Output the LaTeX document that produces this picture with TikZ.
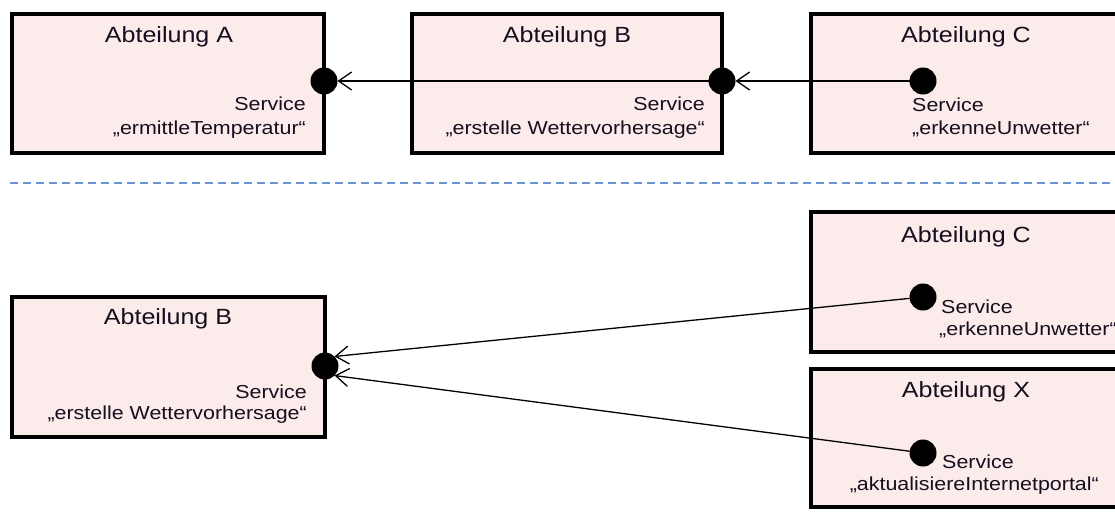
\documentclass[tikz,border=0pt]{standalone}
\usepackage{fontspec}
\setmainfont{Liberation Sans}
\newfontfamily\widesans[FakeStretch=1.14]{Liberation Sans}
\usetikzlibrary{arrows.meta}

\definecolor{boxfill}{RGB}{251,235,235}
\definecolor{sepblue}{RGB}{105,150,210}
\definecolor{txt}{RGB}{20,15,30}

\tikzset{
  dept/.style={draw=black, line width=4.5pt, fill=boxfill, rectangle,
    inner sep=0pt, outer sep=0pt, anchor=north west},
  title/.style={font=\widesans\fontsize{22}{26}\selectfont, text=txt, inner sep=0pt},
  svc/.style={font=\widesans\fontsize{18.8}{22}\selectfont, text=txt, inner sep=0pt},
  port/.style={circle, fill=black, draw=none, minimum size=27pt, inner sep=0pt, outer sep=0pt},
  conn/.style={line width=1.3pt, -{Straight Barb[length=13pt,width=18pt,line width=1.3pt]}},
  sep/.style={draw=sepblue, line width=2pt, dash pattern=on 8pt off 5pt}
}

\begin{document}
\begin{tikzpicture}[x=1pt, y=-1pt]
\useasboundingbox (0,0) rectangle (1115,511);
\clip (0,0) rectangle (1115,511);

% ---- upper row: chain A <- B <- C
\node[dept, minimum width=312pt, minimum height=139pt] (bA) at (12,14) {};
\node[dept, minimum width=310pt, minimum height=139pt] (bB) at (412,14) {};
\node[dept, minimum width=312pt, minimum height=139pt] (bC) at (811,14) {};

\node[title] (tA) at (169,37) {Abteilung A};
\node[title] (tB) at (567,37) {Abteilung B};
\node[title] (tC) at (966,37) {Abteilung C};

\node[svc, anchor=east] (sA1) at (306,104) {Service};
\node[svc, anchor=east] (sA2) at (306,130) {„ermittleTemperatur“};
\node[svc, anchor=east] (sB1) at (705,104) {Service};
\node[svc, anchor=east] (sB2) at (705,130) {„erstelle Wettervorhersage“};
\node[svc, anchor=west] (sC1) at (912,105) {Service};
\node[svc, anchor=west] (sC2) at (912,129) {„erkenneUnwetter“};

\node[port] (pA) at (324,81) {};
\node[port] (pB) at (722,81) {};
\node[port] (pC) at (923,81) {};

\draw[conn] (pC) -- (pB);
\draw[conn] (pB) -- (pA);

% ---- separator
\coordinate (sepL) at (10,183);
\coordinate (sepR) at (1115,183);
\draw[sep] (sepL) -- (sepR);

% ---- lower row: C and X both use B
\node[dept, minimum width=313pt, minimum height=140pt] (b2B) at (12,297) {};
\node[dept, minimum width=312pt, minimum height=140pt] (b2C) at (811,212) {};
\node[dept, minimum width=312pt, minimum height=138pt] (b2X) at (811,369) {};

\node[title] (t2B) at (168,319) {Abteilung B};
\node[title] (t2C) at (966,237) {Abteilung C};
\node[title] (t2X) at (966,392) {Abteilung X};

\node[svc, anchor=east] (s2B1) at (307,392) {Service};
\node[svc, anchor=east] (s2B2) at (307,415) {„erstelle Wettervorhersage“};
\node[svc, anchor=west] (s2C1) at (941,307) {Service};
\node[svc, anchor=west] (s2C2) at (939,330) {„erkenneUnwetter“};
\node[svc, anchor=west] (s2X1) at (942,462) {Service};
\node[svc, anchor=east] (s2X2) at (1099,486) {„aktualisiereInternetportal“};

\node[port] (p2B) at (325,366) {};
\node[port] (p2C) at (923,297) {};
\node[port] (p2X) at (923,453) {};

\draw[conn] (p2C) -- (p2B.north east);
\draw[conn] (p2X) -- (p2B.south east);
\end{tikzpicture}
\end{document}
